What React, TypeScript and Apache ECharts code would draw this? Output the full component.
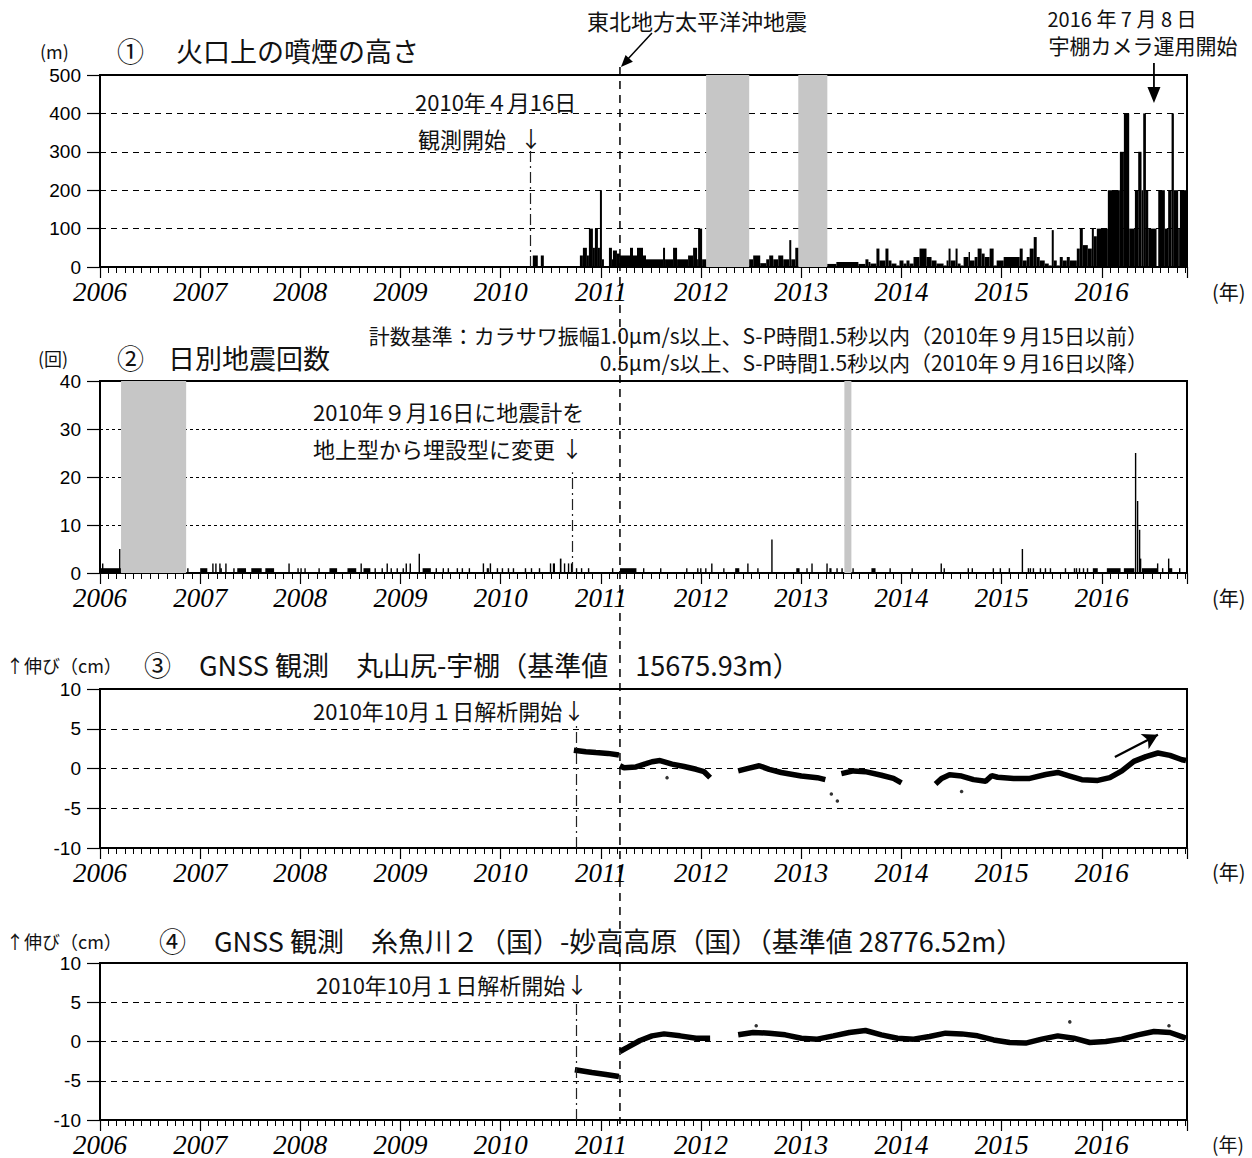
import React, { useEffect, useRef } from 'react';
import * as echarts from 'echarts';

// ---------- axis ----------
const X_MIN = 2006;
const X_MAX = 2016.85;
const YEAR_LABELS = [2006, 2007, 2008, 2009, 2010, 2011, 2012, 2013, 2014, 2015, 2016];

// ---------- ① smoke height (start of step, height m) ----------
const smokeStart = [
  2010.32, 2010.37, 2010.40, 2010.43,
  2010.79, 2010.82, 2010.86, 2010.88, 2010.92, 2010.94, 2010.97, 2010.99, 2011.01, 2011.03,
  2011.08, 2011.11, 2011.12, 2011.16, 2011.19, 2011.29, 2011.32, 2011.36, 2011.42, 2011.45,
  2011.62, 2011.64, 2011.72, 2011.76, 2011.87, 2011.92, 2011.96, 2011.97, 2012.01, 2012.05,
  2012.48, 2012.52, 2012.59, 2012.65, 2012.68, 2012.72, 2012.77, 2012.82, 2012.88, 2012.90, 2012.94, 2012.97,
  2013.26, 2013.35, 2013.57, 2013.64, 2013.67,
  2013.69, 2013.75, 2013.78, 2013.84, 2013.87, 2013.90, 2013.95, 2013.98, 2014.02, 2014.05, 2014.08,
  2014.12, 2014.18, 2014.25, 2014.30, 2014.35, 2014.42, 2014.45, 2014.47, 2014.49, 2014.54, 2014.56,
  2014.59, 2014.62, 2014.67, 2014.68, 2014.73, 2014.76, 2014.80, 2014.83, 2014.88, 2014.92, 2014.95,
  2015.02, 2015.18, 2015.21, 2015.25, 2015.28, 2015.32, 2015.35, 2015.38, 2015.43, 2015.47, 2015.50,
  2015.52, 2015.55, 2015.58, 2015.61, 2015.65, 2015.68, 2015.75, 2015.78, 2015.81, 2015.86, 2015.90,
  2015.92, 2015.95, 2016.06, 2016.18, 2016.22, 2016.273, 2016.33, 2016.363, 2016.396, 2016.413, 2016.44,
  2016.463, 2016.546, 2016.563, 2016.629, 2016.662, 2016.696, 2016.719, 2016.762, 2016.779, 2016.85,
];
const smokeHeight = [
  30, 0, 30, 0,
  30, 50, 30, 100, 50, 100, 50, 200, 20, 0,
  50, 20, 43, 35, 30, 50, 30, 50, 30, 20,
  50, 20, 50, 20, 30, 50, 20, 100, 20, 0,
  20, 30, 10, 20, 30, 20, 30, 20, 70, 20, 50, 0,
  8, 13, 8, 20, 13,
  9, 48, 17, 48, 17, 9, 4, 17, 9, 17, 9,
  26, 48, 26, 17, 9, 4, 17, 48, 17, 48, 9,
  4, 26, 39, 17, 26, 48, 35, 26, 48, 4, 17,
  26, 48, 17, 26, 48, 78, 26, 17, 9, 4, 96,
  17, 4, 26, 17, 26, 17, 48, 100, 57, 48, 100,
  80, 100, 200, 300, 400, 100, 200, 300, 200, 400, 200,
  100, 0, 200, 100, 200, 400, 200, 100, 200, 0,
];
const smokeNoData = [[2012.05, 2012.48], [2012.97, 2013.26]];

// ---------- ② daily earthquakes (start year, count, span days) ----------
const quakeYears = [
  2006.00, 2006.02, 2006.19, 2006.87, 2007.00, 2007.12, 2007.15, 2007.19, 2007.20, 2007.25, 2007.33,
  2007.37, 2007.51, 2007.65, 2007.88, 2007.97, 2008.00, 2008.04, 2008.18, 2008.29, 2008.47, 2008.60,
  2008.63, 2008.74, 2008.81, 2008.86, 2008.90, 2008.96, 2009.02, 2009.05, 2009.09, 2009.18, 2009.22,
  2009.35, 2009.42, 2009.47, 2009.56, 2009.61, 2009.68, 2009.82, 2009.86, 2009.89, 2009.96, 2010.01,
  2010.07, 2010.12, 2010.24, 2010.30, 2010.38, 2010.49, 2010.52, 2010.59, 2010.63, 2010.67, 2010.70,
  2010.75, 2010.80, 2010.87, 2011.11, 2011.19,
  2011.42, 2011.59, 2011.85, 2011.96, 2011.99, 2012.04, 2012.10, 2012.22, 2012.34, 2012.46, 2012.56,
  2012.70, 2012.95, 2013.05, 2013.10, 2013.25, 2013.28, 2013.35, 2013.40, 2013.51, 2013.70, 2013.88,
  2014.10, 2014.39, 2014.42, 2014.66, 2014.70, 2014.91, 2014.98, 2015.07, 2015.20, 2015.26, 2015.28,
  2015.31, 2015.38, 2015.43, 2015.48, 2015.63, 2015.72, 2015.74, 2015.77, 2015.81, 2015.85, 2015.91,
  2016.05, 2016.22, 2016.33, 2016.35, 2016.37, 2016.38, 2016.40, 2016.55, 2016.60, 2016.66, 2016.67,
  2016.77,
];
const quakeCounts = [
  1, 2, 5, 1, 1, 2, 2, 2, 1, 2, 1,
  1, 1, 1, 2, 1, 1, 1, 1, 1, 1, 2,
  1, 1, 1, 2, 1, 1, 1, 2, 2, 4, 1,
  1, 1, 1, 1, 1, 1, 2, 1, 2, 1, 1,
  1, 1, 1, 1, 1, 2, 2, 3, 2, 2, 2,
  1, 1, 1, 1, 1,
  1, 1, 1, 1, 1, 1, 2, 1, 1, 2, 1,
  7, 1, 1, 2, 2, 1, 1, 1, 1, 1, 1,
  1, 2, 1, 1, 1, 1, 1, 1, 5, 1, 1,
  1, 1, 1, 1, 1, 1, 1, 1, 1, 1, 1,
  1, 1, 25, 15, 9, 3, 1, 2, 1, 3, 1,
  1,
];
const quakeSpanDays = [
  76, 2, 3, 4, 26, 3, 3, 2, 6, 2, 3,
  32, 38, 32, 2, 3, 3, 3, 4, 28, 32, 2,
  25, 3, 3, 2, 3, 3, 3, 2, 2, 1.5, 30,
  3, 3, 3, 3, 3, 3, 3, 8, 3, 3, 3,
  3, 3, 3, 3, 3, 3, 8, 6, 4, 3, 2,
  3, 3, 3, 3, 60,
  3, 3, 3, 3, 3, 3, 3, 3, 15, 2, 3,
  1.5, 12, 3, 2, 3, 8, 3, 3, 3, 15, 3,
  3, 3, 3, 3, 3, 3, 3, 3, 1.5, 3, 3,
  3, 3, 3, 3, 3, 3, 3, 3, 3, 3, 18,
  50, 38, 2, 2, 2, 3, 55, 2, 3, 2, 12,
  3,
];
const quakeNoData = [[2006.21, 2006.86], [2013.43, 2013.50]];

// ---------- ③ GNSS 丸山尻-宇棚 (cm) ----------
const gnss3Years = [
  2010.73, 2010.85, 2010.95, 2011.07, 2011.18, 2011.185,
  2011.19, 2011.23, 2011.35, 2011.45, 2011.51, 2011.59, 2011.71, 2011.83, 2011.95, 2012.03, 2012.09, 2012.2,
  2012.37, 2012.48, 2012.58, 2012.68, 2012.80, 2013.00, 2013.16, 2013.24, 2013.3,
  2013.40, 2013.52, 2013.64, 2013.80, 2013.92, 2014.00, 2014.2,
  2014.34, 2014.40, 2014.48, 2014.60, 2014.72, 2014.84, 2014.90, 2014.96, 2015.12, 2015.28, 2015.44,
  2015.56, 2015.68, 2015.80, 2015.96, 2016.08, 2016.20, 2016.32, 2016.44, 2016.56, 2016.68, 2016.80, 2016.84,
];
const gnss3Values = [
  2.3, 2.1, 2.0, 1.9, 1.7, null,
  0.35, 0.1, 0.2, 0.6, 0.85, 1.0, 0.55, 0.25, -0.1, -0.4, -1.15, null,
  -0.3, 0.05, 0.35, -0.1, -0.5, -0.95, -1.15, -1.4, null,
  -0.65, -0.3, -0.4, -0.85, -1.25, -1.8, null,
  -1.95, -1.25, -0.8, -0.95, -1.4, -1.6, -0.9, -1.1, -1.25, -1.25, -0.75,
  -0.5, -0.95, -1.4, -1.5, -1.15, -0.3, 0.9, 1.5, 1.95, 1.65, 1.1, 1.0,
];
const gnss3Outliers = [[2011.66, -1.15], [2013.30, -3.2], [2013.36, -4.1], [2014.60, -2.9]];

// ---------- ④ GNSS 糸魚川２(国)-妙高高原(国) (cm) ----------
const gnss4Years = [
  2010.74, 2010.91, 2011.05, 2011.18, 2011.185,
  2011.19, 2011.27, 2011.39, 2011.51, 2011.63, 2011.79, 2011.95, 2012.09, 2012.2,
  2012.37, 2012.52, 2012.68, 2012.84, 2013.00, 2013.16, 2013.32, 2013.48, 2013.64, 2013.80, 2013.96,
  2014.12, 2014.28, 2014.44, 2014.60, 2014.76, 2014.92, 2015.08, 2015.24, 2015.40, 2015.56, 2015.72,
  2015.88, 2016.04, 2016.20, 2016.36, 2016.52, 2016.68, 2016.84,
];
const gnss4Values = [
  -3.6, -3.95, -4.2, -4.45, null,
  -1.27, -0.72, 0.13, 0.72, 0.97, 0.72, 0.42, 0.42, null,
  0.85, 1.15, 1.06, 0.85, 0.42, 0.3, 0.72, 1.15, 1.4, 0.85, 0.42,
  0.3, 0.64, 1.06, 0.97, 0.72, 0.2, -0.13, -0.2, 0.3, 0.72, 0.42,
  -0.13, 0.0, 0.3, 0.85, 1.27, 1.15, 0.42,
];
const gnss4Outliers = [[2012.55, 2.0], [2015.68, 2.5], [2016.67, 2.0]];

// ---------- events ----------
const TOHOKU = 2011.19;       // 2011-03-11
const CAMERA_START = 2016.52; // 2016-07-08
const SMOKE_START = 2010.29;  // 2010-04-16
const SEISMO_CHANGE = 2010.71; // 2010-09-16
const GNSS_START = 2010.75;   // 2010-10-01

// ---------- texts ----------
const T = {
  unit1: '(m)',
  num1: '①',
  title1: '火口上の噴煙の高さ',
  tohoku: '東北地方太平洋沖地震',
  cam1: '2016 年 7 月 8 日',
  cam2: '宇棚カメラ運用開始',
  obs1: '2010年４月16日',
  obs2: '観測開始',
  unit2: '(回)',
  num2: '②',
  title2: '日別地震回数',
  crit1: '計数基準：カラサワ振幅1.0μm/s以上、S-P時間1.5秒以内（2010年９月15日以前）',
  crit2: '0.5μm/s以上、S-P時間1.5秒以内（2010年９月16日以降）',
  seis1: '2010年９月16日に地震計を',
  seis2: '地上型から埋設型に変更',
  unit3: '↑伸び（cm）',
  num3: '③',
  title3: 'GNSS 観測　丸山尻-宇棚（基準値　15675.93m）',
  num4: '④',
  title4: 'GNSS 観測　糸魚川２（国）-妙高高原（国）（基準値 28776.52m）',
  gnss: '2010年10月１日解析開始',
  year: '(年)',
  down: '↓',
};

const JP = "'Noto Sans CJK JP', 'Noto Sans', sans-serif";
const GRIDS = [
  { left: 100, top: 75, width: 1087, height: 192 },
  { left: 100, top: 381, width: 1087, height: 192 },
  { left: 100, top: 689, width: 1087, height: 159 },
  { left: 100, top: 963, width: 1087, height: 159 },
];
const Y_AXES = [
  { min: 0, max: 500, interval: 100, dash: [6, 5] },
  { min: 0, max: 40, interval: 10, dash: [3, 3] },
  { min: -10, max: 10, interval: 5, dash: [6, 5] },
  { min: -10, max: 10, interval: 5, dash: [6, 5] },
];

function buildOption() {
  const smokeBars = smokeStart.slice(0, -1).map((s, i) => [s, smokeStart[i + 1], smokeHeight[i]]);
  const quakeBars = quakeYears.map((s, i) => [s, s + quakeSpanDays[i] / 365, quakeCounts[i]]);
  const gnss3 = gnss3Years.map((y, i) => [y, gnss3Values[i]]);
  const gnss4 = gnss4Years.map((y, i) => [y, gnss4Values[i]]);

  const renderBar = (params: any, api: any) => {
    const x0 = api.value(0);
    const x1 = api.value(1);
    const v = api.value(2);
    if (!v) return null;
    const p0 = api.coord([x0, v]);
    const p1 = api.coord([x1, 0]);
    return {
      type: 'rect',
      shape: { x: p0[0], y: p0[1], width: Math.max(p1[0] - p0[0], 1.4), height: p1[1] - p0[1] },
      style: { fill: '#000' },
    };
  };

  const grayArea = (ranges: number[][]) => ({
    silent: true,
    itemStyle: { color: '#c6c6c6' },
    label: { show: false },
    data: ranges.map((r) => [{ xAxis: r[0] }, { xAxis: r[1] }]),
  });
  const dashDot = (x: number, y0: number, y1: number) => ({
    silent: true,
    symbol: 'none',
    label: { show: false },
    lineStyle: { color: '#222', width: 1.2, type: [11, 4, 2, 4] },
    data: [[{ coord: [x, y0] }, { coord: [x, y1] }]],
  });

  return {
    animation: false,
    backgroundColor: '#fff',
    grid: GRIDS.map((g) => ({ ...g, show: true, borderColor: '#000', borderWidth: 2, backgroundColor: 'transparent' })),
    xAxis: GRIDS.map((_, i) => ({
      type: 'value',
      gridIndex: i,
      min: X_MIN,
      max: X_MAX,
      interval: 1,
      axisLine: { show: true, onZero: false, lineStyle: { color: '#000', width: 2 } },
      axisTick: { show: true, length: 11, lineStyle: { color: '#000', width: 1.2 } },
      minorTick: { show: true, splitNumber: 12, length: 6, lineStyle: { color: '#000', width: 1 } },
      splitLine: { show: false },
      axisLabel: {
        color: '#000',
        fontFamily: "'Liberation Serif', serif",
        fontStyle: 'italic',
        fontSize: 27,
        margin: 11,
        formatter: (v: number) => {
          const r = Math.round(v);
          return Math.abs(v - r) < 1e-6 && YEAR_LABELS.indexOf(r) >= 0 ? String(r) : '';
        },
      },
    })),
    yAxis: Y_AXES.map((a, i) => ({
      type: 'value',
      gridIndex: i,
      min: a.min,
      max: a.max,
      interval: a.interval,
      axisLine: { show: true, onZero: false, lineStyle: { color: '#000', width: 2 } },
      axisTick: { show: true, length: 13, lineStyle: { color: '#000', width: 1.2 } },
      splitLine: { show: true, lineStyle: { color: '#000', width: 1, type: a.dash } },
      axisLabel: { color: '#000', fontFamily: "'Liberation Sans', Arial, sans-serif", fontSize: 19, margin: 19 },
    })),
    series: [
      {
        type: 'custom',
        xAxisIndex: 0,
        yAxisIndex: 0,
        renderItem: renderBar,
        encode: { x: [0, 1], y: 2 },
        clip: true,
        data: smokeBars,
        z: 3,
        markArea: grayArea(smokeNoData),
        markLine: dashDot(SMOKE_START, 0, 305),
      },
      {
        type: 'custom',
        xAxisIndex: 1,
        yAxisIndex: 1,
        renderItem: renderBar,
        encode: { x: [0, 1], y: 2 },
        clip: true,
        data: quakeBars,
        z: 3,
        markArea: grayArea(quakeNoData),
        markLine: dashDot(SEISMO_CHANGE, 0, 21),
      },
      {
        type: 'line',
        xAxisIndex: 2,
        yAxisIndex: 2,
        data: gnss3,
        showSymbol: false,
        connectNulls: false,
        lineStyle: { color: '#000', width: 5.5 },
        z: 3,
        markLine: dashDot(GNSS_START, -10, 5.5),
      },
      {
        type: 'scatter',
        xAxisIndex: 2,
        yAxisIndex: 2,
        data: gnss3Outliers,
        symbolSize: 3.5,
        itemStyle: { color: '#000' },
        markLine: {
          silent: true,
          symbol: ['none', 'arrow'],
          symbolSize: [13, 15],
          label: { show: false },
          lineStyle: { color: '#000', width: 2.2, type: 'solid' },
          data: [[{ coord: [2016.13, 1.45] }, { coord: [2016.56, 4.25] }]],
        },
      },
      {
        type: 'line',
        xAxisIndex: 3,
        yAxisIndex: 3,
        data: gnss4,
        showSymbol: false,
        connectNulls: false,
        lineStyle: { color: '#000', width: 5.5 },
        z: 3,
        markLine: dashDot(GNSS_START, -10, 5.3),
      },
      {
        type: 'scatter',
        xAxisIndex: 3,
        yAxisIndex: 3,
        data: gnss4Outliers,
        symbolSize: 3.5,
        itemStyle: { color: '#000' },
      },
    ],
  };
}

function txt(text: string, x: number, y: number, size: number, align = 'left', family = JP) {
  return {
    type: 'text',
    x,
    y,
    silent: true,
    z: 20,
    style: {
      text,
      fontSize: size,
      fontFamily: family,
      fill: '#111',
      align,
      textAlign: align,
      verticalAlign: 'middle',
      textVerticalAlign: 'middle',
    },
  };
}

function buildGraphics(xT: number, xC: number) {
  const els: any[] = [
    txt(T.unit1, 40, 51, 18),
    txt(T.num1, 117, 50, 27),
    txt(T.title1, 176, 50, 27),
    txt(T.tohoku, 697, 20, 22, 'center'),
    txt(T.cam1, 1122, 18, 20, 'center'),
    txt(T.cam2, 1143, 45, 21, 'center'),
    txt(T.obs1, 415, 101, 22),
    txt(T.obs2, 418, 138, 22),
    txt(T.down, 531, 137, 22, 'center'),
    txt(T.unit2, 38, 358, 18),
    txt(T.num2, 117, 357, 27),
    txt(T.title2, 168, 357, 27),
    txt(T.crit1, 1148, 335, 21, 'right'),
    txt(T.crit2, 1148, 362, 21, 'right'),
    txt(T.seis1, 313, 411, 22),
    txt(T.seis2, 313, 448, 22),
    txt(T.down, 572, 447, 22, 'center'),
    txt(T.unit3, 6, 665, 18),
    txt(T.num3, 144, 664, 27),
    txt(T.title3, 199, 664, 27),
    txt(T.gnss, 313, 710, 22),
    txt(T.down, 574, 709, 22, 'center'),
    txt(T.unit3, 6, 941, 18),
    txt(T.num4, 159, 940, 27),
    txt(T.title4, 214, 940, 27),
    txt(T.gnss, 316, 984, 22),
    txt(T.down, 577, 983, 22, 'center'),
    txt(T.year, 1212, 291, 20),
    txt(T.year, 1212, 597, 20),
    txt(T.year, 1212, 871, 20),
    txt(T.year, 1212, 1143, 19),
    // Tohoku vertical dashed line
    {
      type: 'line',
      silent: true,
      z: 15,
      shape: { x1: xT, y1: 67, x2: xT, y2: 1124 },
      style: { stroke: '#000', lineWidth: 1.5, lineDash: [8, 6] },
    },
    {
      type: 'line',
      silent: true,
      z: 15,
      shape: { x1: xT + 32, y1: 33, x2: xT + 7, y2: 60 },
      style: { stroke: '#000', lineWidth: 1.5 },
    },
    {
      type: 'polygon',
      silent: true,
      z: 15,
      shape: { points: [[xT + 1, 67], [xT + 12.9, 61.7], [xT + 5.6, 54.9]] },
      style: { fill: '#000' },
    },
    // camera start arrow
    {
      type: 'line',
      silent: true,
      z: 15,
      shape: { x1: xC, y1: 63, x2: xC, y2: 92 },
      style: { stroke: '#000', lineWidth: 1.8 },
    },
    {
      type: 'polygon',
      silent: true,
      z: 15,
      shape: { points: [[xC, 103], [xC - 6.5, 87], [xC + 6.5, 87]] },
      style: { fill: '#000' },
    },
  ];
  return els;
}

export default function App() {
  const ref = useRef<HTMLDivElement>(null);
  useEffect(() => {
    if (!ref.current) return;
    const chart = echarts.init(ref.current, undefined, { renderer: 'svg' });
    chart.setOption(buildOption() as any);
    const xT = chart.convertToPixel({ xAxisIndex: 0 } as any, TOHOKU) as unknown as number;
    const xC = chart.convertToPixel({ xAxisIndex: 0 } as any, CAMERA_START) as unknown as number;
    chart.setOption({ graphic: buildGraphics(xT, xC) } as any);
    return () => chart.dispose();
  }, []);
  return (
    <div
      ref={ref}
      style={{ position: 'absolute', left: 0, top: 0, width: 1252, height: 1158, background: '#fff' }}
    />
  );
}
